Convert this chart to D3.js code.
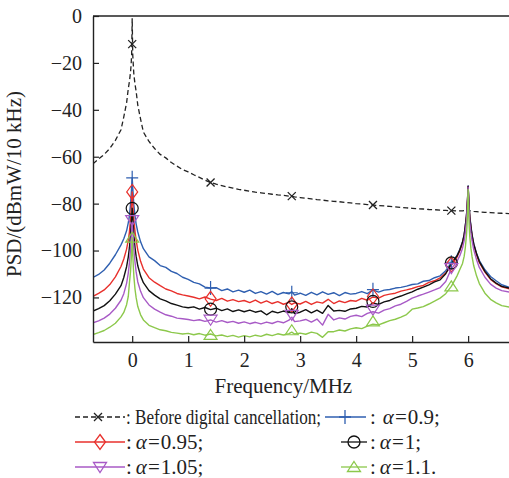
<!DOCTYPE html>
<html>
<head>
<meta charset="utf-8">
<script src="https://cdn.jsdelivr.net/npm/d3@7"></script>
<style>
  body { margin: 0; background: #fff; }
  svg { display: block; font-family: "Liberation Serif", "Times New Roman", serif; }
</style>
</head>
<body>
<svg id="chart"></svg>
<script>
// frequency grid (MHz), shared by all curves
const freq = [
  -0.7, -0.6, -0.5, -0.4, -0.3, -0.2, -0.15, -0.1, -0.07, -0.05, -0.03, -0.02, -0.01, 0,
  0.01, 0.02, 0.03, 0.05, 0.07, 0.1, 0.15, 0.2, 0.3, 0.4, 0.5, 0.6, 0.7, 0.8, 0.9,
  1.0, 1.1, 1.2, 1.3, 1.4, 1.5, 1.6, 1.7, 1.8, 1.9,
  2.0, 2.1, 2.2, 2.3, 2.4, 2.5, 2.6, 2.7, 2.8, 2.85, 2.9,
  3.0, 3.1, 3.2, 3.3, 3.4, 3.5, 3.6, 3.7, 3.8, 3.9,
  4.0, 4.1, 4.2, 4.3, 4.4, 4.5, 4.6, 4.7, 4.8, 4.9,
  5.0, 5.1, 5.2, 5.3, 5.4, 5.5, 5.6, 5.7, 5.8, 5.85, 5.9, 5.93, 5.95, 5.97, 5.98, 5.99,
  6.0, 6.01, 6.02, 6.03, 6.05, 6.07, 6.1, 6.15, 6.2, 6.3, 6.4, 6.5, 6.6, 6.75
];

const beforeCancel = [
  -63, -61, -59, -56.5, -53, -48.5, -43, -37, -31, -28, -24, -21, -16.5, -1,
  -16.5, -21, -25, -29, -32, -38, -44, -49.5, -53.5, -56.5, -59, -60.5, -62.5, -64, -65.5,
  -66.5, -67.7, -68.8, -70, -71, -71.7, -72.3, -72.9, -73.4, -73.9,
  -74.3, -74.7, -75.1, -75.4, -75.7, -76, -76.3, -76.5, -76.8, -76.9, -77.1,
  -77.4, -77.7, -78, -78.3, -78.5, -78.8, -79, -79.2, -79.5, -79.7,
  -80, -80.2, -80.4, -80.6, -80.8, -81, -81.2, -81.4, -81.6, -81.8,
  -82, -82.2, -82.3, -82.5, -82.6, -82.8, -82.9, -83, -83.1, -83.1, -83.1, -83, -82.9, -82.7, -82.6, -82.4,
  -82.2, -82.5, -82.8, -83, -83.1, -83.2, -83.3, -83.4, -83.5, -83.7, -83.8, -84, -84.1, -84.3
];

const alpha090 = [
  -111.5, -110.2, -108.3, -105.4, -101.8, -97.6, -95, -91.6, -88.2, -85.3, -80.4, -77, -73.2, -69,
  -73.4, -77.2, -80.6, -85.2, -88.6, -92.1, -96.3, -99.2, -102.7, -104.3, -106.4, -107.2, -108.9, -109.8, -111.4,
  -112.3, -113.6, -114.2, -115.6, -116, -115.8, -117.1, -116.4, -117.6, -116.9,
  -117.8, -116.9, -118.3, -117.5, -118.6, -117.4, -118.8, -117.9, -118.5, -117.5, -119,
  -118.2, -119.1, -117.8, -118.9, -117.6, -118.7, -118, -119.2, -117.9, -118.6,
  -118.3, -117.5, -118.4, -116.8, -117.7, -116.9, -116.6, -116, -115.7, -115.2,
  -114.5, -114.2, -113.1, -112.8, -111.6, -110.8, -108.6, -105.2, -102.2, -99.6, -96.2, -93, -89.4, -85.2, -82, -77.8,
  -72.5, -77.5, -82, -85.5, -89.5, -93.2, -97, -101.2, -104.3, -108.2, -111.1, -112.9, -114.6, -115.8
];

const alpha095 = [
  -119.5, -118.3, -116.8, -114.5, -111.2, -106.8, -103.6, -99.4, -95.6, -92.2, -86.8, -83.2, -79.3, -75,
  -79.6, -83.5, -87, -91.8, -95.5, -99.8, -104.6, -107.9, -111.6, -113.5, -115, -116.4, -117.2, -118.3, -118.9,
  -119.4, -119.9, -120.6, -119.8, -120.7, -121.3, -120.4, -121.6, -120.9, -121.8,
  -121.3, -122.2, -121.1, -122.4, -121.5, -122.6, -121.8, -122.9, -122.1, -123, -122.3,
  -122.8, -121.7, -123, -121.9, -122.4, -120.8, -122.6, -121.5, -122.2, -121.3,
  -121.6, -120.4, -121.2, -119.8, -120.3, -119.1, -118.6, -118.2, -117.3, -116.8,
  -116.2, -115.4, -114.9, -113.6, -112.9, -111.7, -109.6, -106.3, -102.9, -100.2, -96.8, -93.5, -89.8, -85.6, -82.3, -78.2,
  -72.8, -78.1, -82.5, -86.1, -90.3, -93.8, -97.6, -101.8, -105.1, -109.2, -112.3, -114.1, -115.5, -116.4
];

const alpha100 = [
  -125.8, -124.8, -123.5, -121.4, -118.6, -115, -111.5, -106.9, -102.8, -98.9, -93.2, -89.4, -85.6, -82,
  -86, -89.8, -93.5, -98.6, -102.4, -106.5, -110.8, -113.7, -117.1, -119, -120.6, -121.5, -122.6, -123.3, -124,
  -124.4, -124, -125, -124.3, -125.2, -124.6, -125.6, -124.9, -126, -125.3,
  -126.1, -125.4, -126.3, -125.7, -127.4, -125.9, -126.6, -125.8, -126.5, -124.8, -126.9,
  -126.3, -125.2, -126.6, -125.4, -126.8, -123.4, -125.8, -125.5, -125.9, -124.9,
  -124.6, -123.8, -124.1, -122.3, -123, -121.9, -121.3, -120.2, -119.4, -118.5,
  -117.6, -116.5, -115.6, -114.6, -113.4, -112.5, -109.9, -105.5, -102.4, -99.9, -96.5, -93.3, -89.6, -85.4, -82.1, -78,
  -72.6, -77.8, -82.3, -85.9, -90, -93.5, -97.3, -101.4, -104.7, -108.9, -112, -113.9, -115.3, -116.1
];

const alpha105 = [
  -130.8, -130, -128.8, -127.1, -124.6, -121.2, -118.4, -114, -109.6, -105.5, -99.4, -95.3, -91.5, -88,
  -92, -95.8, -99.6, -104.9, -109, -113.4, -117.4, -120.1, -123.2, -125, -126.3, -127.4, -128, -128.8, -129.1,
  -129.4, -129.9, -129.5, -130.2, -129.6, -130.5, -129.9, -130.7, -130.2, -131,
  -130.4, -131.2, -130.6, -131.3, -130.5, -131.1, -130.2, -130.8, -129.7, -128.4, -130.3,
  -130, -129.4, -130.5, -129.2, -131.8, -127.2, -129.6, -128.7, -129.2, -128.1,
  -127.6, -128.2, -126.8, -126.1, -126.7, -125.4, -124.8, -123.6, -122.9, -121.7,
  -120.3, -119.4, -118.6, -117.7, -116.8, -115.8, -113.2, -107.8, -104.7, -102.3, -99, -95.7, -92.2, -87.5, -83.6, -79,
  -73, -79.6, -84.5, -88.2, -92.5, -95.8, -99.6, -103.9, -107.2, -111.4, -114.3, -116, -117.1, -117.8
];

const alpha110 = [
  -135.8, -135, -134.1, -132.7, -131, -128.3, -126.4, -123.1, -119.6, -114, -109, -105, -100.8, -94.5,
  -101.2, -106.8, -111, -116.4, -120, -123.9, -127.4, -129.6, -131.9, -132.9, -133.8, -134.2, -134.9, -135.2, -135.6,
  -135.3, -135.9, -135.4, -136.1, -135.6, -136.4, -136, -136.7, -136.2, -136.9,
  -136.3, -136.8, -136.1, -136.6, -135.7, -136.3, -135.5, -136, -135.4, -134.8, -135.6,
  -135.2, -135.7, -134.8, -135.3, -137, -134.6, -134.6, -133.9, -134.3, -133.4,
  -132.9, -133.3, -132.2, -131.4, -131.7, -130.8, -129.9, -129.3, -128.4, -127.3,
  -125, -124.5, -123.9, -122.8, -121.6, -120.3, -118.4, -115.3, -110.9, -108.2, -105.5, -102.4, -98.7, -93.6, -89.5, -83.5,
  -74, -84, -90, -94.2, -99.1, -102.6, -106.5, -110.8, -114.1, -118.2, -120.8, -122.3, -123.5, -124.2
];

// marker positions
const markFreq = [0, 1.4, 2.85, 4.3, 5.7];
const beforeMarks = [-12, -71, -76.8, -80.6, -83];
const alpha090Marks = [-69, -116, -118, -116.7, -105];
const alpha095Marks = [-75, -120.6, -123, -119.6, -106];
const alpha100Marks = [-82, -125, -124, -121.7, -105.3];
const alpha105Marks = [-87, -129.5, -127.4, -125.2, -107.5];
const alpha110Marks = [-94.5, -136, -134, -130.2, -115.3];

const xTicks = [0, 1, 2, 3, 4, 5, 6];
const yTicks = [0, -20, -40, -60, -80, -100, -120];

const series = [
  { alpha: '0.9',  end: ';', values: alpha090, marks: alpha090Marks, color: '#2f5fb0', sym: 'plus' },
  { alpha: '0.95', end: ';', values: alpha095, marks: alpha095Marks, color: '#e8302c', sym: 'diamond' },
  { alpha: '1',    end: ';', values: alpha100, marks: alpha100Marks, color: '#111111', sym: 'circle' },
  { alpha: '1.05', end: ';', values: alpha105, marks: alpha105Marks, color: '#a85ac6', sym: 'tridown' },
  { alpha: '1.1',  end: '.', values: alpha110, marks: alpha110Marks, color: '#8cc84b', sym: 'triup' }
];

let svgWidth = 509, svgHeight = 478;
let margin = { top: 16, right: 0, bottom: 136, left: 93 };
let width = svgWidth - margin.left - margin.right;
let height = svgHeight - margin.top - margin.bottom;

let svg = d3.select('#chart')
  .attr('width', svgWidth)
  .attr('height', svgHeight);

let g = svg.append('g')
  .attr('transform', 'translate(' + margin.left + ',' + margin.top + ')');

let x = d3.scaleLinear().domain([-0.7, 6.73]).range([0, width]);
let y = d3.scaleLinear().domain([-139, 0]).range([height, 0]);

svg.append('clipPath').attr('id', 'plotclip')
  .append('rect').attr('x', 0).attr('y', 0).attr('width', width).attr('height', height);

function symbolPath(sym) {
  switch (sym) {
    case 'cross': return 'M-4,-4L4,4M-4,4L4,-4';
    case 'plus': return 'M-6,0H6M0,-7V7';
    case 'diamond': return 'M0,-7.5L5.5,0L0,7.5L-5.5,0Z';
    case 'circle': return 'M6,0A6,6 0 1,1 -6,0A6,6 0 1,1 6,0Z';
    case 'tridown': return 'M-6.5,-4.5H6.5L0,5.5Z';
    case 'triup': return 'M0,-5.5L6.5,4.5H-6.5Z';
  }
}

let line = d3.line()
  .x(function (d, i) { return x(freq[i]); })
  .y(function (d) { return y(d); });

let plot = g.append('g').attr('clip-path', 'url(#plotclip)');

// before digital cancellation
plot.append('path')
  .datum(beforeCancel)
  .attr('fill', 'none')
  .attr('stroke', '#222')
  .attr('stroke-width', 1.3)
  .attr('stroke-dasharray', '5,3')
  .attr('d', line);

series.forEach(function (s) {
  plot.append('path')
    .datum(s.values)
    .attr('fill', 'none')
    .attr('stroke', s.color)
    .attr('stroke-width', 1.4)
    .attr('stroke-linejoin', 'round')
    .attr('d', line);
});

plot.selectAll('.mk-before')
  .data(beforeMarks)
  .enter().append('path')
  .attr('transform', function (d, i) { return 'translate(' + x(markFreq[i]) + ',' + y(d) + ')'; })
  .attr('d', symbolPath('cross'))
  .attr('fill', 'none').attr('stroke', '#222').attr('stroke-width', 1.3);

series.forEach(function (s) {
  plot.selectAll(null)
    .data(s.marks)
    .enter().append('path')
    .attr('transform', function (d, i) { return 'translate(' + x(markFreq[i]) + ',' + y(d) + ')'; })
    .attr('d', symbolPath(s.sym))
    .attr('fill', 'none').attr('stroke', s.color).attr('stroke-width', 1.2);
});

// axes
let xAxis = g.append('g')
  .attr('transform', 'translate(0,' + height + ')')
  .call(d3.axisBottom(x).tickValues(xTicks).tickFormat(d3.format('d'))
    .tickSize(-6).tickSizeOuter(0).tickPadding(11));

let yAxis = g.append('g')
  .call(d3.axisLeft(y).tickValues(yTicks).tickFormat(function (d) { return d < 0 ? '\u2212' + (-d) : d; })
    .tickSize(-6).tickSizeOuter(0).tickPadding(11));

[xAxis, yAxis].forEach(function (a) {
  a.selectAll('text').attr('font-size', 20).attr('fill', '#222')
    .attr('font-family', '"Liberation Serif", serif');
  a.selectAll('line').attr('stroke', '#222').attr('stroke-width', 1.2);
  a.select('.domain').attr('stroke', '#222').attr('stroke-width', 1.4);
});

// top border
g.append('line')
  .attr('x1', 0).attr('x2', width).attr('y1', 0).attr('y2', 0)
  .attr('stroke', '#222').attr('stroke-width', 1.4);

// axis titles
svg.append('text')
  .attr('x', margin.left + x(2.7)).attr('y', 393)
  .attr('text-anchor', 'middle').attr('font-size', 21).attr('fill', '#222')
  .text('Frequency/MHz');

svg.append('text')
  .attr('transform', 'translate(21,184) rotate(-90)')
  .attr('text-anchor', 'middle').attr('font-size', 21).attr('fill', '#222')
  .text('PSD/(dBmW/10 kHz)');

// legend
let legRows = [417, 442, 467];
let leg = svg.append('g').attr('font-size', 20).attr('fill', '#222');

function legendKey(x0, x1, xm, yy, color, sym, dashed) {
  leg.append('line')
    .attr('x1', x0).attr('x2', x1).attr('y1', yy).attr('y2', yy)
    .attr('stroke', color).attr('stroke-width', 1.3)
    .attr('stroke-dasharray', dashed ? '5,3' : null);
  leg.append('path')
    .attr('transform', 'translate(' + xm + ',' + yy + ')')
    .attr('d', symbolPath(sym))
    .attr('fill', 'none').attr('stroke', color).attr('stroke-width', 1.3);
}

legendKey(75, 125, 98, legRows[0], '#222', 'cross', true);
leg.append('text').attr('x', 126).attr('y', legRows[0] + 7)
  .attr('textLength', 195).attr('lengthAdjust', 'spacingAndGlyphs')
  .text(': Before digital cancellation;');

let legPos = [
  { col: 1, row: 0, gap: 7 }, { col: 0, row: 1, gap: 4 }, { col: 1, row: 1, gap: 4 },
  { col: 0, row: 2, gap: 4 }, { col: 1, row: 2, gap: 4 }
];
series.forEach(function (s, i) {
  let p = legPos[i];
  let yy = legRows[p.row];
  if (p.col === 0) {
    legendKey(75, 125, 100, yy, s.color, s.sym, false);
  } else if (p.row === 0) {
    legendKey(325, 366, 345, yy, s.color, s.sym, false);
  } else {
    legendKey(341, 367, 354, yy, s.color, s.sym, false);
  }
  let t = leg.append('text').attr('x', p.col === 0 ? 126 : 370).attr('y', yy + 7)
    .attr('font-size', 21);
  t.append('tspan').text(':');
  t.append('tspan').attr('dx', p.gap).attr('font-style', 'italic').text('\u03b1');
  t.append('tspan').attr('dx', 1).text('=');
  t.append('tspan').attr('dx', 1).text(s.alpha + s.end);
});
</script>
</body>
</html>
